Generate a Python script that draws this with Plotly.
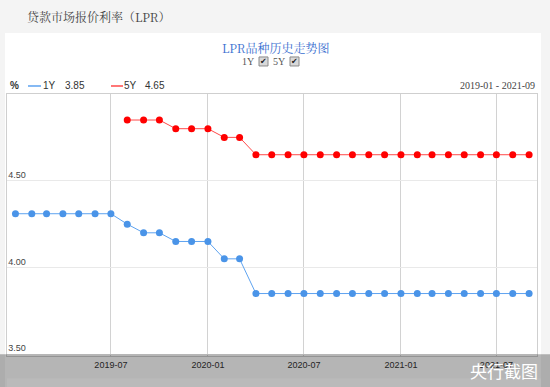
import plotly.graph_objects as go

# ---- data ----
months = ["2019-01", "2019-02", "2019-03", "2019-04", "2019-05", "2019-06", "2019-07",
          "2019-08", "2019-09", "2019-10", "2019-11", "2019-12",
          "2020-01", "2020-02", "2020-03", "2020-04", "2020-05", "2020-06",
          "2020-07", "2020-08", "2020-09", "2020-10", "2020-11", "2020-12",
          "2021-01", "2021-02", "2021-03", "2021-04", "2021-05", "2021-06",
          "2021-07", "2021-08", "2021-09"]
lpr_1y = [4.31, 4.31, 4.31, 4.31, 4.31, 4.31, 4.31,
          4.25, 4.20, 4.20, 4.15, 4.15,
          4.15, 4.05, 4.05, 3.85, 3.85, 3.85,
          3.85, 3.85, 3.85, 3.85, 3.85, 3.85,
          3.85, 3.85, 3.85, 3.85, 3.85, 3.85,
          3.85, 3.85, 3.85]
lpr_5y = [None, None, None, None, None, None, None,
          4.85, 4.85, 4.85, 4.80, 4.80,
          4.80, 4.75, 4.75, 4.65, 4.65, 4.65,
          4.65, 4.65, 4.65, 4.65, 4.65, 4.65,
          4.65, 4.65, 4.65, 4.65, 4.65, 4.65,
          4.65, 4.65, 4.65]
x_ticks = ["2019-07", "2020-01", "2020-07", "2021-01", "2021-07"]
y_ticks = [3.5, 4.0, 4.5]

dates = [m + "-01" for m in months]

W, H = 550, 387
Y_MIN, Y_MAX = 3.49, 5.0
L, R, T = 7, 537, 94
B = 354 + (3.5 - Y_MIN) * (354 - T) / 1.5   # so that 3.50 sits at y=354


def px(x):
    return (x - L) / (R - L)


def py(y):
    return (B - y) / (B - T)


BLUE = "#4a94e8"
BLUE_LINE = "#5ea3f0"
RED = "#ff0000"
RED_LINE = "#ff4a4a"

fig = go.Figure()
fig.add_trace(go.Scatter(x=dates, y=lpr_1y, mode="lines+markers", name="1Y",
                         line=dict(color=BLUE_LINE, width=1),
                         marker=dict(color=BLUE, size=7), hoverinfo="skip"))
fig.add_trace(go.Scatter(x=dates, y=lpr_5y, mode="lines+markers", name="5Y",
                         line=dict(color=RED_LINE, width=1),
                         marker=dict(color=RED, size=7), hoverinfo="skip"))

shapes = [
    # white panel
    dict(type="rect", xref="paper", yref="paper", x0=px(5), x1=px(541), y0=py(387), y1=py(33),
         fillcolor="white", line=dict(width=0), layer="below"),
    # legend line samples
    dict(type="line", xref="paper", yref="paper", x0=px(28), x1=px(41), y0=py(86), y1=py(86),
         line=dict(color=BLUE_LINE, width=1.5)),
    dict(type="line", xref="paper", yref="paper", x0=px(111), x1=px(123), y0=py(86), y1=py(86),
         line=dict(color=RED_LINE, width=1.5)),
    # checkboxes
    dict(type="rect", xref="paper", yref="paper", x0=px(259), x1=px(268), y0=py(66), y1=py(57),
         fillcolor="#d9d9d9", line=dict(color="#8a8a8a", width=1)),
    dict(type="rect", xref="paper", yref="paper", x0=px(290), x1=px(299), y0=py(66), y1=py(57),
         fillcolor="#d9d9d9", line=dict(color="#8a8a8a", width=1)),
    # screenshot overlay bar
    dict(type="rect", xref="paper", yref="paper", x0=px(0), x1=px(550), y0=py(387), y1=py(354),
         fillcolor="rgba(0,0,0,0.29)", line=dict(width=0), layer="above"),
    dict(type="rect", xref="paper", yref="paper", x0=px(7), x1=px(541), y0=py(387), y1=py(378),
         fillcolor="rgba(255,255,255,0.07)", line=dict(width=0), layer="above"),
]

num_font = dict(family="Liberation Sans, Arial, sans-serif", size=10, color="#333333")
annotations = [
    dict(text="贷款市场报价利率（LPR）", x=px(25), y=py(17), xanchor="left", yanchor="middle",
         font=dict(family="Noto Serif CJK SC, Noto Sans CJK SC, serif", size=12, color="#444444")),
    dict(text="LPR品种历史走势图", x=px(275), y=py(48), xanchor="center", yanchor="middle",
         font=dict(family="Noto Serif CJK SC, Noto Sans CJK SC, serif", size=12, color="#3a6fd0")),
    dict(text="1Y", x=px(256), y=py(62), xanchor="right", yanchor="middle",
         font=dict(family="Liberation Serif, serif", size=10, color="#555555")),
    dict(text="5Y", x=px(287), y=py(62), xanchor="right", yanchor="middle",
         font=dict(family="Liberation Serif, serif", size=10, color="#555555")),
    dict(text="✔", x=px(263.5), y=py(61.5), xanchor="center", yanchor="middle",
         font=dict(family="DejaVu Sans", size=8, color="#222222")),
    dict(text="✔", x=px(294.5), y=py(61.5), xanchor="center", yanchor="middle",
         font=dict(family="DejaVu Sans", size=8, color="#222222")),
    dict(text="<b>%</b>", x=px(8), y=py(86), xanchor="left", yanchor="middle", font=num_font),
    dict(text="1Y", x=px(41), y=py(86), xanchor="left", yanchor="middle", font=num_font),
    dict(text="%.2f" % lpr_1y[-1], x=px(63), y=py(86), xanchor="left", yanchor="middle", font=num_font),
    dict(text="5Y", x=px(122), y=py(86), xanchor="left", yanchor="middle", font=num_font),
    dict(text="%.2f" % lpr_5y[-1], x=px(143), y=py(86), xanchor="left", yanchor="middle", font=num_font),
    dict(text="%s - %s" % (months[0], months[-1]), x=px(537), y=py(86), xanchor="right", yanchor="middle",
         font=dict(family="Liberation Serif, serif", size=10, color="#444444")),
    dict(text="央行截图", x=px(540), y=py(370), xanchor="right", yanchor="middle",
         font=dict(family="Noto Sans CJK SC, sans-serif", size=17, color="white")),
]
for a in annotations:
    a.update(xref="paper", yref="paper", showarrow=False)

fig.update_layout(
    width=W, height=H,
    margin=dict(l=L, r=W - R, t=T, b=H - B, pad=0),
    paper_bgcolor="#f4f4f4", plot_bgcolor="white",
    showlegend=False,
    shapes=shapes, annotations=annotations,
    xaxis=dict(type="date", range=["2018-12-16", "2021-09-16"],
               tickvals=[t + "-01" for t in x_ticks], ticktext=x_ticks,
               showgrid=True, gridcolor="#d2d2d2", gridwidth=1,
               showline=True, linecolor="#cfcfcf", mirror=True,
               ticks="", tickfont=dict(family="Liberation Sans, Arial, sans-serif", size=9, color="#333333"),
               zeroline=False, fixedrange=True),
    yaxis=dict(range=[Y_MIN, Y_MAX], tickvals=y_ticks, ticktext=["%.2f" % v for v in y_ticks],
               showgrid=True, gridcolor="#e9e9e9", gridwidth=1,
               showline=True, linecolor="#cfcfcf", mirror=True,
               ticks="", ticklabelposition="inside", ticklabelshift=-6,
               tickfont=dict(family="Liberation Sans, Arial, sans-serif", size=9, color="#444444"),
               zeroline=False, fixedrange=True),
)

fig.write_html("out.html", config={"displayModeBar": False},
               post_script="document.body.style.margin='0';document.body.style.overflow='hidden';")
